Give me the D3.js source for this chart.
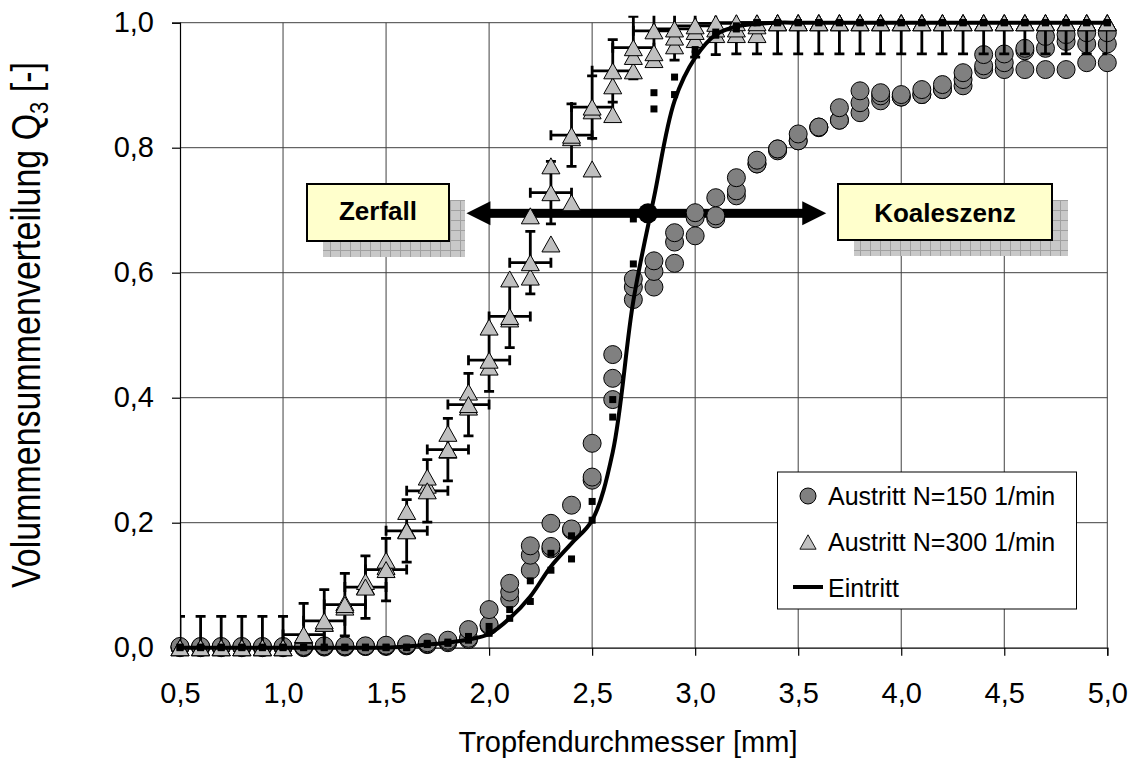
<!DOCTYPE html>
<html>
<head>
<meta charset="utf-8">
<script src="https://cdn.jsdelivr.net/npm/d3@7"></script>
<style>
body { margin: 0; background: #fff; }
svg { display: block; font-family: "Liberation Sans", Arial, sans-serif; }
</style>
</head>
<body>
<svg width="1137" height="764"></svg>
<script>
// Tropfendurchmesser [mm]
var diameters = [0.5, 0.6, 0.7, 0.8, 0.9, 1.0, 1.1, 1.2, 1.3, 1.4, 1.5, 1.6, 1.7, 1.8, 1.9, 2.0,
  2.1, 2.2, 2.3, 2.4, 2.5, 2.6, 2.7, 2.8, 2.9, 3.0, 3.1, 3.2, 3.3, 3.4, 3.5, 3.6, 3.7, 3.8, 3.9, 4.0,
  4.1, 4.2, 4.3, 4.4, 4.5, 4.6, 4.7, 4.8, 4.9, 5.0];

// Austritt N=150 1/min (three runs)
var circ150a = [0.002, 0.002, 0.002, 0.002, 0.002, 0.002, 0.002, 0.003, 0.003, 0.003, 0.004, 0.005, 0.008, 0.012, 0.029, 0.061,
  0.103, 0.163, 0.199, 0.228, 0.327, 0.469, 0.590, 0.619, 0.664, 0.696, 0.720, 0.752, 0.780, 0.798, 0.822, 0.833, 0.864, 0.891, 0.888, 0.885,
  0.893, 0.901, 0.920, 0.949, 0.950, 0.959, 0.978, 0.981, 0.984, 0.984];
var circ150b = [0.001, 0.001, 0.001, 0.001, 0.001, 0.001, 0.001, 0.002, 0.002, 0.002, 0.003, 0.004, 0.006, 0.010, 0.015, 0.037,
  0.089, 0.148, 0.162, 0.190, 0.273, 0.431, 0.577, 0.602, 0.649, 0.688, 0.691, 0.731, 0.774, 0.798, 0.811, 0.833, 0.844, 0.872, 0.883, 0.881,
  0.885, 0.893, 0.909, 0.931, 0.936, 0.955, 0.959, 0.970, 0.966, 0.966];
var circ150c = [0.000, 0.000, 0.000, 0.000, 0.000, 0.000, 0.000, 0.001, 0.001, 0.002, 0.002, 0.003, 0.005, 0.008, 0.013, 0.035,
  0.078, 0.124, 0.158, 0.188, 0.268, 0.397, 0.557, 0.577, 0.615, 0.659, 0.686, 0.723, 0.774, 0.795, 0.811, 0.832, 0.844, 0.856, 0.875, 0.881,
  0.885, 0.893, 0.899, 0.925, 0.925, 0.925, 0.925, 0.925, 0.936, 0.936];

// Austritt N=300 1/min (run a carries the error bars)
var tri300a = [0, 0, 0, 0, 0, 0, 0.021, 0.043, 0.069, 0.097, 0.125, 0.187, 0.251, 0.317, 0.389, 0.460,
  0.530, 0.616, 0.728, 0.820, 0.865, 0.923, 0.960, 0.987, 0.990, 0.995, 0.999, 1, 1, 1, 1, 1, 1, 1, 1, 1,
  1, 1, 1, 1, 1, 1, 1, 1, 1, 1];
var tri300b = [0, 0, 0, 0, 0, 0, 0.020, 0.039, 0.065, 0.106, 0.140, 0.218, 0.273, 0.343, 0.409, 0.513,
  0.590, 0.691, 0.771, 0.816, 0.859, 0.899, 0.946, 0.952, 0.977, 0.986, 0.990, 0.990, 0.995, 1, 1, 1, 1, 1, 1, 1,
  1, 1, 1, 1, 1, 1, 1, 1, 1, 1];
var tri300c = [0, 0, 0, 0, 0, 0, 0.020, 0.039, 0.072, 0.098, 0.130, 0.188, 0.260, 0.316, 0.385, 0.449,
  0.526, 0.593, 0.646, 0.712, 0.766, 0.853, 0.923, 0.941, 0.963, 0.973, 0.981, 0.981, 0.981, 1, 1, 1, 1, 1, 1, 1,
  1, 1, 1, 1, 1, 1, 1, 1, 1, 1];
var errY = 0.05, errX = 0.1;

// Eintritt measurements (small squares) and curve
var sqA = [0.001, 0.001, 0.001, 0.001, 0.001, 0.001, 0.001, 0.001, 0.001, 0.001, 0.001, 0.001, 0.007, 0.009, 0.018, 0.034,
  0.061, 0.107, 0.151, 0.179, 0.234, 0.397, 0.686, 0.888, 0.913, 0.957, 0.985, 0.995, 1, 1, 1, 1, 1, 1, 1, 1,
  1, 1, 1, 1, 1, 1, 1, 1, 1, 1];
var sqB = [0, 0, 0, 0, 0, 0, 0, 0, 0, 0, 0, 0, 0.005, 0.007, 0.012, 0.023,
  0.047, 0.074, 0.124, 0.142, 0.204, 0.369, 0.614, 0.862, 0.885, 0.950, 0.980, 0.990, 1, 1, 1, 1, 1, 1, 1, 1,
  1, 1, 1, 1, 1, 1, 1, 1, 1, 1];
var eintritt = [0, 0, 0, 0, 0, 0, 0, 0, 0, 0, 0, 0.002, 0.005, 0.008, 0.013, 0.022,
  0.047, 0.082, 0.130, 0.167, 0.204, 0.313, 0.555, 0.720, 0.875, 0.944, 0.981, 0.994, 0.998, 1, 1, 1, 1, 1, 1, 1,
  1, 1, 1, 1, 1, 1, 1, 1, 1, 1];

var xTicks = [0.5, 1.0, 1.5, 2.0, 2.5, 3.0, 3.5, 4.0, 4.5, 5.0];
var yTicks = [0, 0.2, 0.4, 0.6, 0.8, 1.0];
var legendLabels = ["Austritt N=150 1/min", "Austritt N=300 1/min", "Eintritt"];

// annotation arrow (data units)
var arrowY = 0.695, arrowLeft = 1.89, arrowRight = 3.636, crossX = 2.771;

var svg = d3.select("svg"),
    margin = {top: 22.7, right: 29.7, bottom: 116.3, left: 180},
    width = 1137 - margin.left - margin.right,
    height = 764 - margin.top - margin.bottom,
    g = svg.append("g").attr("transform", "translate(" + margin.left + "," + margin.top + ")");

var x = d3.scaleLinear().domain([0.5, 5.0]).range([0, width]),
    y = d3.scaleLinear().domain([0, 1]).range([height, 0]);

var de = d3.formatLocale({decimal: ",", thousands: ".", grouping: [3], currency: ["", " €"]}),
    fmt = de.format(".1f");

function pts(vals) {
  return diameters.map(function(d, i) { return {x: d, y: vals[i]}; });
}

// shadow pattern for the text boxes
var pat = svg.append("defs").append("pattern")
    .attr("id", "hatch").attr("patternUnits", "userSpaceOnUse")
    .attr("width", 10).attr("height", 10);
pat.append("rect").attr("width", 10).attr("height", 10).attr("fill", "#c8c8c8");
pat.append("path").attr("d", "M0,0.5H10M0.5,0V10").attr("stroke", "#a0a0a0").attr("stroke-width", 1);
svg.select("defs").append("clipPath").attr("id", "plotclip")
  .append("rect").attr("x", 0).attr("y", y(1.011)).attr("width", width).attr("height", height - y(1.011));

// grid
g.append("g").selectAll("line").data(xTicks.slice(1)).enter().append("line")
    .attr("x1", function(d) { return x(d); }).attr("x2", function(d) { return x(d); })
    .attr("y1", 0).attr("y2", height)
    .attr("stroke", "#404040").attr("stroke-width", 1);
g.append("g").selectAll("line").data(yTicks.slice(1)).enter().append("line")
    .attr("y1", function(d) { return y(d); }).attr("y2", function(d) { return y(d); })
    .attr("x1", 0).attr("x2", width)
    .attr("stroke", "#404040").attr("stroke-width", 1);

// axes
var xAxis = g.append("g")
    .attr("transform", "translate(0," + height + ")")
    .call(d3.axisBottom(x).tickValues(xTicks).tickSize(8).tickPadding(27).tickFormat(fmt));
var yAxis = g.append("g")
    .call(d3.axisLeft(y).tickValues(yTicks).tickSize(8).tickPadding(18).tickFormat(fmt));
[xAxis, yAxis].forEach(function(a) {
  a.select(".domain").attr("stroke", "#000").attr("stroke-width", 1.2);
  a.selectAll(".tick line").attr("stroke", "#000").attr("stroke-width", 1.2);
  a.selectAll("text").attr("font-size", 29).attr("font-family", "Liberation Sans, Arial, sans-serif").attr("fill", "#000");
});

svg.append("text")
    .attr("x", 628).attr("y", 752)
    .attr("text-anchor", "middle").attr("font-size", 29)
    .text("Tropfendurchmesser [mm]");

var yt = svg.append("text")
    .attr("transform", "translate(40,325) rotate(-90) scale(1,1.18)")
    .attr("text-anchor", "middle").attr("font-size", 34);
yt.append("tspan").text("Volummensummenverteilung Q");
yt.append("tspan").attr("font-size", 22).attr("dy", 7).text("3");
yt.append("tspan").attr("dy", -7).text(" [-]");

// arrow behind the series
var ga = g.append("g").attr("fill", "#000");
var ay = y(arrowY), al = x(arrowLeft), ar = x(arrowRight);
ga.append("rect").attr("x", al + 20).attr("y", ay - 4.5).attr("width", ar - al - 40).attr("height", 9);
ga.append("path").attr("d", "M" + al + "," + ay + "L" + (al + 24) + "," + (ay - 12) + "L" + (al + 24) + "," + (ay + 12) + "Z");
ga.append("path").attr("d", "M" + ar + "," + ay + "L" + (ar - 24) + "," + (ay - 12) + "L" + (ar - 24) + "," + (ay + 12) + "Z");

// circles N=150
[circ150c, circ150b, circ150a].forEach(function(run) {
  g.append("g").selectAll("circle").data(pts(run)).enter().append("circle")
      .attr("cx", function(d) { return x(d.x); })
      .attr("cy", function(d) { return y(d.y); })
      .attr("r", 9)
      .attr("fill", "#808080").attr("stroke", "#000").attr("stroke-width", 1);
});

// error bars on N=300 run a
var eb = g.append("g").attr("clip-path", "url(#plotclip)")
    .attr("stroke", "#000").attr("stroke-width", 2.8).attr("fill", "none");
eb.selectAll("path").data(pts(tri300a)).enter().append("path")
    .attr("d", function(d) {
      var cx = x(d.x), cy = y(d.y),
          t = y(d.y + errY), b = y(d.y - errY),
          l = x(d.x - errX), r = x(d.x + errX);
      return "M" + cx + "," + t + "V" + b +
        "M" + (cx - 5) + "," + t + "H" + (cx + 5) +
        "M" + (cx - 5) + "," + b + "H" + (cx + 5) +
        "M" + l + "," + cy + "H" + r +
        "M" + l + "," + (cy - 5) + "V" + (cy + 5) +
        "M" + r + "," + (cy - 5) + "V" + (cy + 5);
    });

// triangles N=300
var triPath = "M0,-8L9,8L-9,8Z";
[tri300c, tri300b, tri300a].forEach(function(run) {
  g.append("g").selectAll("path").data(pts(run)).enter().append("path")
      .attr("transform", function(d) { return "translate(" + x(d.x) + "," + y(d.y) + ")"; })
      .attr("d", triPath)
      .attr("fill", "#c0c0c0").attr("stroke", "#000").attr("stroke-width", 1);
});

// Eintritt squares
[sqA, sqB].forEach(function(run) {
  g.append("g").selectAll("rect").data(pts(run)).enter().append("rect")
      .attr("x", function(d) { return x(d.x) - 3.5; })
      .attr("y", function(d) { return y(d.y) - 3.5; })
      .attr("width", 7).attr("height", 7)
      .attr("fill", "#000");
});

// Eintritt curve
var line = d3.line()
    .curve(d3.curveCatmullRom.alpha(0.5))
    .x(function(d) { return x(d.x); })
    .y(function(d) { return y(d.y); });
g.append("path")
    .datum(pts(eintritt))
    .attr("d", line)
    .attr("fill", "none").attr("stroke", "#000").attr("stroke-width", 4);

g.append("circle").attr("cx", x(crossX)).attr("cy", ay).attr("r", 10).attr("fill", "#000");

// text boxes
function textBox(bx, by, bw, bh, label, base) {
  svg.append("rect").attr("x", bx + 16).attr("y", by + 16).attr("width", bw).attr("height", bh)
      .attr("fill", "url(#hatch)");
  svg.append("rect").attr("x", bx).attr("y", by).attr("width", bw).attr("height", bh)
      .attr("fill", "#ffffcc").attr("stroke", "#000").attr("stroke-width", 2);
  svg.append("text").attr("x", bx + bw / 2).attr("y", base)
      .attr("text-anchor", "middle").attr("font-size", 26).attr("font-weight", "bold")
      .text(label);
}
textBox(307, 184, 142, 57, "Zerfall", 220);
textBox(838, 184, 214, 56, "Koaleszenz", 222);

// legend
var lg = svg.append("g");
lg.append("rect").attr("x", 777.5).attr("y", 472).attr("width", 299).attr("height", 137)
    .attr("fill", "#fff").attr("stroke", "#000").attr("stroke-width", 1);
lg.append("circle").attr("cx", 808).attr("cy", 496).attr("r", 8)
    .attr("fill", "#808080").attr("stroke", "#000").attr("stroke-width", 1);
lg.append("path").attr("transform", "translate(808,542) scale(0.9)").attr("d", triPath)
    .attr("fill", "#c0c0c0").attr("stroke", "#000").attr("stroke-width", 1);
lg.append("line").attr("x1", 793).attr("x2", 823).attr("y1", 587).attr("y2", 587)
    .attr("stroke", "#000").attr("stroke-width", 4);
lg.selectAll("text").data(legendLabels).enter().append("text")
    .attr("x", 828).attr("y", function(d, i) { return 505 + i * 46; })
    .attr("font-size", 25)
    .text(function(d) { return d; });
</script>
</body>
</html>
